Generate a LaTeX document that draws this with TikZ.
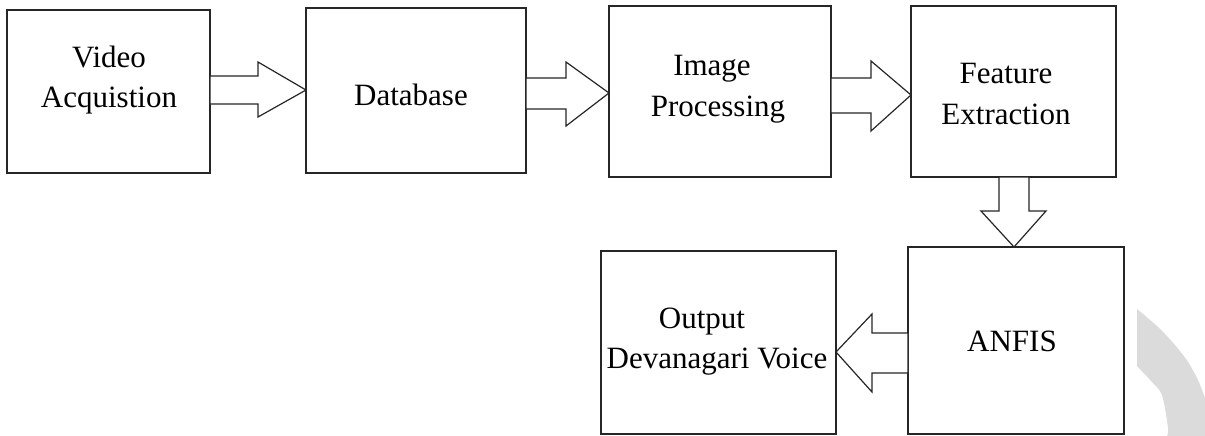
\documentclass[tikz,border=0pt]{standalone}
\usepackage{fontspec}
\setmainfont{Liberation Serif}
\begin{document}
\begin{tikzpicture}[x=1pt,y=-1pt,
  box/.style={draw=black!85,line width=1.6pt,rectangle,inner sep=0pt,outer sep=0pt},
  lbl/.style={anchor=base,align=center,inner sep=0pt,font=\fontsize{31}{40}\selectfont},
  barrow/.style={draw=black!85,line width=1.2pt,fill=white,line join=miter},
  wm/.style={fill=black!14}]
\useasboundingbox (0,0) rectangle (1205,436);
% watermark
\fill[wm] plot[smooth] coordinates {(1137,309) (1158,327) (1175,345) (1188,362) (1198,380) (1205,398)}
  -- (1205,436) -- plot[smooth] coordinates {(1167,436) (1168,428) (1162,395) (1151,381) (1137,366)} -- cycle;
% boxes
\node[box,minimum width=203pt,minimum height=163pt] (b1) at (108.5,91.5) {};
\node[box,minimum width=220pt,minimum height=165pt] (b2) at (416,90.5) {};
\node[box,minimum width=222pt,minimum height=171pt] (b3) at (720,91.5) {};
\node[box,minimum width=205pt,minimum height=171pt] (b4) at (1013.5,91.5) {};
\node[box,minimum width=216pt,minimum height=187pt] (b5) at (1016,340.5) {};
\node[box,minimum width=235pt,minimum height=183pt] (b6) at (718.5,342.5) {};
% labels
\node[lbl] (t1) at (109,107) {Video\\Acquistion};
\node[lbl] (t2) at (411,105) {Database};
\node[lbl] (t3) at (718,116) {Image\hspace*{12pt}\\Processing};
\node[lbl] (t4) at (1006,124) {Feature\\Extraction};
\node[lbl] (t5) at (1012,351) {ANFIS};
\node[lbl] (t6) at (717,368) {Output\hspace*{30pt}\\Devanagari Voice};
% block arrows
\draw[barrow] (b1.east |- 0,76) -- (258,76) -- (258,62) -- (b2.west |- 0,90) -- (258,117) -- (258,104) -- (b1.east |- 0,104) -- cycle;
\draw[barrow] (b2.east |- 0,78) -- (566,78) -- (566,62) -- (b3.west |- 0,93) -- (566,126) -- (566,109) -- (b2.east |- 0,109) -- cycle;
\draw[barrow] (b3.east |- 0,78) -- (871,78) -- (871,61) -- (b4.west |- 0,95) -- (871,131) -- (871,113) -- (b3.east |- 0,113) -- cycle;
\draw[barrow] (b4.south -| 999,0) -- (999,211) -- (981,211) -- (b5.north -| 1014,0) -- (1046,211) -- (1029,211) -- (b4.south -| 1029,0) -- cycle;
\draw[barrow] (b5.west |- 0,333) -- (872,333) -- (872,314) -- (b6.east |- 0,352) -- (872,392) -- (872,373) -- (b5.west |- 0,373) -- cycle;
\end{tikzpicture}
\end{document}
